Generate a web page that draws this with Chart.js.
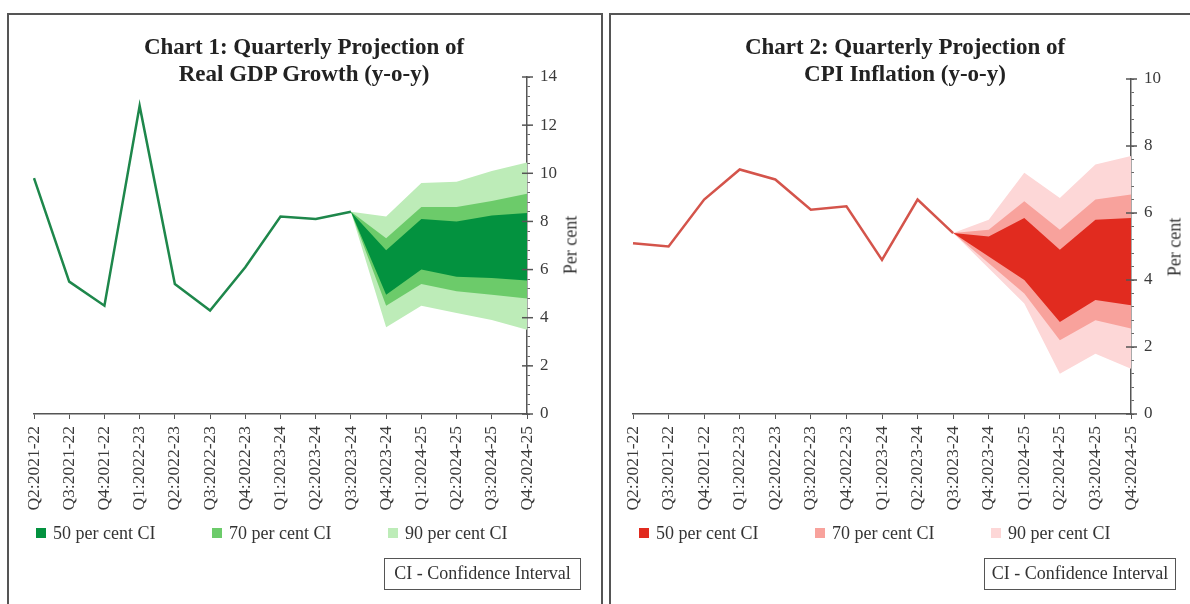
<!DOCTYPE html>
<html>
<head>
<meta charset="utf-8">
<script src="https://cdn.jsdelivr.net/npm/chart.js@4.4.1/dist/chart.umd.min.js"></script>
<style>
  body { margin: 0; width: 1190px; height: 604px; overflow: hidden; background: #fff; font-family: "Liberation Serif", serif; color: #333; }
  .panel { position: absolute; top: 13px; height: 640px; border: 2px solid #555; border-bottom: none; box-sizing: border-box; }
  #panel1 { left: 7px; width: 596px; }
  #panel2 { left: 609px; width: 600px; }
  canvas { position: absolute; top: 0; }
  .title { position: absolute; top: 33px; width: 600px; text-align: center; font-weight: bold; font-size: 23px; line-height: 27px; color: #222; }
  .ytitle { position: absolute; font-size: 18px; white-space: nowrap; transform: translate(-50%, -50%) rotate(-90deg); color: #333; }
  .legend { position: absolute; top: 522px; height: 22px; display: flex; font-size: 18px; }
  .legend .item { width: 176px; display: flex; align-items: center; }
  .legend .sw { width: 10px; height: 10px; margin-right: 7px; }
  .ci { position: absolute; top: 558px; height: 32px; border: 1.5px solid #555; box-sizing: border-box; font-size: 18px; line-height: 29px; text-align: center; }
</style>
</head>
<body>
<div class="panel" id="panel1"></div>
<div class="panel" id="panel2"></div>

<canvas id="chartGdp" width="604" height="604" style="left:0"></canvas>
<canvas id="chartCpi" width="586" height="604" style="left:604px"></canvas>

<div class="title" style="left:4px">Chart 1: Quarterly Projection of<br>Real GDP Growth (y-o-y)</div>
<div class="title" style="left:605px">Chart 2: Quarterly Projection of<br>CPI Inflation (y-o-y)</div>
<div class="ytitle" style="left:571px; top:245px">Per cent</div>
<div class="ytitle" style="left:1175px; top:247px">Per cent</div>
<div class="legend" id="legendGdp" style="left:36px"></div>
<div class="legend" id="legendCpi" style="left:639px"></div>
<div class="ci" style="left:384px; width:197px">CI - Confidence Interval</div>
<div class="ci" style="left:984px; width:192px">CI - Confidence Interval</div>

<script>
const quarters = [
  "Q2:2021-22", "Q3:2021-22", "Q4:2021-22", "Q1:2022-23", "Q2:2022-23",
  "Q3:2022-23", "Q4:2022-23", "Q1:2023-24", "Q2:2023-24", "Q3:2023-24",
  "Q4:2023-24", "Q1:2024-25", "Q2:2024-25", "Q3:2024-25", "Q4:2024-25",
];
const ciLabels = ["50 per cent CI", "70 per cent CI", "90 per cent CI"];

// Chart 1: real GDP growth, actuals then fan bands (start at last actual)
const gdpActual = [9.8, 5.5, 4.5, 12.8, 5.4, 4.3, 6.1, 8.2, 8.1, 8.4, null, null, null, null, null];
const gdpUpper50 = [null, null, null, null, null, null, null, null, null, 8.4, 6.8, 8.1, 8.0, 8.25, 8.35];
const gdpLower50 = [null, null, null, null, null, null, null, null, null, 8.4, 4.95, 6.0, 5.7, 5.65, 5.55];
const gdpUpper70 = [null, null, null, null, null, null, null, null, null, 8.4, 7.3, 8.6, 8.6, 8.85, 9.15];
const gdpLower70 = [null, null, null, null, null, null, null, null, null, 8.4, 4.5, 5.4, 5.1, 4.95, 4.8];
const gdpUpper90 = [null, null, null, null, null, null, null, null, null, 8.4, 8.2, 9.6, 9.65, 10.1, 10.45];
const gdpLower90 = [null, null, null, null, null, null, null, null, null, 8.4, 3.6, 4.5, 4.2, 3.9, 3.5];

// Chart 2: CPI inflation
const cpiActual = [5.1, 5.0, 6.4, 7.3, 7.0, 6.1, 6.2, 4.6, 6.4, 5.4, null, null, null, null, null];
const cpiUpper50 = [null, null, null, null, null, null, null, null, null, 5.4, 5.3, 5.85, 4.9, 5.8, 5.85];
const cpiLower50 = [null, null, null, null, null, null, null, null, null, 5.4, 4.7, 4.0, 2.75, 3.4, 3.25];
const cpiUpper70 = [null, null, null, null, null, null, null, null, null, 5.4, 5.5, 6.35, 5.5, 6.4, 6.55];
const cpiLower70 = [null, null, null, null, null, null, null, null, null, 5.4, 4.5, 3.6, 2.2, 2.8, 2.55];
const cpiUpper90 = [null, null, null, null, null, null, null, null, null, 5.4, 5.8, 7.2, 6.45, 7.45, 7.7];
const cpiLower90 = [null, null, null, null, null, null, null, null, null, 5.4, 4.35, 3.3, 1.2, 1.8, 1.35];

const gdpColours = { line: "#1e874b", fan: ["#03923f", "#6ccb6a", "#bdecb8"] };
const cpiColours = { line: "#d4544b", fan: ["#e12b1f", "#f8a29c", "#fdd7d7"] };

Chart.defaults.font.family = "'Liberation Serif', serif";
Chart.defaults.color = "#3a3a3a";

const isMajor = (v) => Math.abs(v / 2 - Math.round(v / 2)) < 1e-6;

// major y ticks cross the axis line; chart.js only draws them outwards
const majorTicks = {
  id: "majorTicks",
  afterDraw(chart) {
    const y = chart.scales.y;
    const ctx = chart.ctx;
    ctx.save();
    ctx.strokeStyle = "#555";
    ctx.lineWidth = 1.5;
    y.ticks.forEach((t) => {
      if (!isMajor(t.value)) return;
      const py = y.getPixelForValue(t.value);
      ctx.beginPath();
      ctx.moveTo(y.left - 5, py);
      ctx.lineTo(y.left + 6, py);
      ctx.stroke();
    });
    ctx.restore();
  },
};

const band = (data, colour, fill) => ({
  data: data,
  borderWidth: 0,
  pointRadius: 0,
  backgroundColor: colour,
  fill: fill,
});

const makeChart = (el, actual, bands, colours, yMax, yWidth, padLeft, padTop) => {
  return new Chart(el, {
    type: "line",
    data: {
      labels: quarters,
      datasets: [
        {
          data: actual,
          borderColor: colours.line,
          borderWidth: 2.5,
          pointRadius: 0,
          fill: false,
        },
        band(bands[0], colours.fan[0], "+1"),
        band(bands[1], colours.fan[0], false),
        band(bands[2], colours.fan[1], "+1"),
        band(bands[3], colours.fan[1], false),
        band(bands[4], colours.fan[2], "+1"),
        band(bands[5], colours.fan[2], false),
      ],
    },
    options: {
      responsive: false,
      animation: false,
      events: [],
      layout: { padding: { left: padLeft, top: padTop, right: 0, bottom: 80 } },
      plugins: { legend: { display: false }, tooltip: { enabled: false } },
      scales: {
        x: {
          offset: false,
          grid: { drawOnChartArea: false, tickLength: 5, tickColor: "#555" },
          border: { color: "#555", width: 1.5 },
          ticks: { minRotation: 90, maxRotation: 90, autoSkip: false, padding: 7, font: { size: 17.5 } },
          afterFit: (scale) => { scale.height = 110; },
        },
        y: {
          position: "right",
          min: 0,
          max: yMax,
          grid: { drawOnChartArea: false, tickLength: 3, tickColor: "#666" },
          border: { color: "#555", width: 1.5 },
          ticks: {
            stepSize: 0.4,
            autoSkip: false,
            padding: 10,
            font: { size: 17 },
            callback: (v) => (isMajor(v) ? Math.round(v) : ""),
          },
          afterFit: (scale) => { scale.width = yWidth; },
        },
      },
    },
    plugins: [majorTicks],
  });
};

makeChart(
  document.querySelector("#chartGdp"),
  gdpActual,
  [gdpUpper50, gdpLower50, gdpUpper70, gdpLower70, gdpUpper90, gdpLower90],
  gdpColours, 14, 77, 34, 77
);
makeChart(
  document.querySelector("#chartCpi"),
  cpiActual,
  [cpiUpper50, cpiLower50, cpiUpper70, cpiLower70, cpiUpper90, cpiLower90],
  cpiColours, 10, 59, 29, 79
);

// legends
const buildLegend = (el, colours) => {
  ciLabels.forEach((label, i) => {
    const item = document.createElement("div");
    item.className = "item";
    const sw = document.createElement("span");
    sw.className = "sw";
    sw.style.background = colours.fan[i];
    item.appendChild(sw);
    item.appendChild(document.createTextNode(label));
    el.appendChild(item);
  });
};
buildLegend(document.querySelector("#legendGdp"), gdpColours);
buildLegend(document.querySelector("#legendCpi"), cpiColours);
</script>
</body>
</html>
